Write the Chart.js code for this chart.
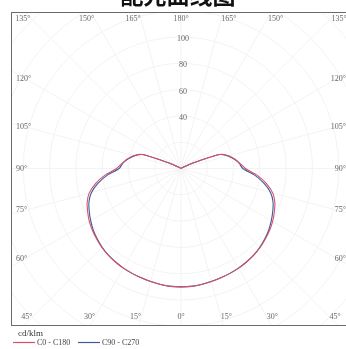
<!DOCTYPE html>
<html>
<head>
<meta charset="utf-8">
<script src="https://cdn.jsdelivr.net/npm/chart.js@4.4.1/dist/chart.umd.min.js"></script>
<style>
    html, body { margin: 0; padding: 0; background: #fff; overflow: hidden; }
    #wrap { width: 360px; height: 349px; }
</style>
</head>
<body>
<div id="wrap"><canvas id="polarChart" width="360" height="349"></canvas></div>
<script>
// gamma angles, 0 = straight down
const gammaAngles = [0, 5, 10, 15, 20, 25, 30, 35, 40, 45, 50, 55, 60, 65, 70, 75, 80, 85, 90,
    95, 100, 105, 110, 115, 120, 125, 130, 135, 140, 145, 150, 155, 160, 165, 170, 175, 180];

// cd/klm
const c0c180 = [90, 90, 89.5, 89, 88.5, 88, 87.5, 86.8, 86, 85, 83.6, 82.2, 80.5, 78.3, 76, 72.3, 66, 58, 49,
    45, 41.5, 37.5, 31, 9, 1.5, 0.5, 0, 0, 0, 0, 0, 0, 0, 0, 0, 0, 0];
const c90c270 = [90, 90, 89.5, 89, 88.5, 88, 87.5, 86.8, 86, 84.8, 83.2, 81.5, 79.3, 77, 74.5, 70.5, 64, 56, 47,
    44.5, 41, 37, 31, 9, 1.5, 0.5, 0, 0, 0, 0, 0, 0, 0, 0, 0, 0, 0];

const seriesNames = ["C0 - C180", "C90 - C270"];
const seriesColors = ["#d4506a", "#3d5a99"];
const ringValues = [20, 40, 60, 80, 100, 120, 140, 160, 180];
const ringLabels = [40, 60, 80, 100];
const rayStep = 15;
const titleText = "配光曲线图";
const unitText = "cd/klm";

// polar -> x/y values, left half then right half
function to_xy(values) {
    const pts = [];
    for (let i = gammaAngles.length - 1; i >= 0; i--) {
        const a = gammaAngles[i] * Math.PI / 180;
        pts.push({x: -values[i] * Math.sin(a), y: -values[i] * Math.cos(a)});
    }
    for (let i = 1; i < gammaAngles.length; i++) {
        const a = gammaAngles[i] * Math.PI / 180;
        pts.push({x: values[i] * Math.sin(a), y: -values[i] * Math.cos(a)});
    }
    return pts;
}

const labelFont = "8px 'Liberation Serif', 'DejaVu Serif', serif";

// grid, angle labels, frame, title and legend
const polarGrid = {
    id: "polarGrid",
    beforeDatasetsDraw(chart) {
        const ctx = chart.ctx;
        const area = chart.chartArea;
        const sx = chart.scales.x, sy = chart.scales.y;
        const cx = sx.getPixelForValue(0), cy = sy.getPixelForValue(0);
        const k = Math.abs(sx.getPixelForValue(1) - cx);

        ctx.save();
        ctx.beginPath();
        ctx.rect(area.left, area.top, area.right - area.left, area.bottom - area.top);
        ctx.clip();
        ctx.strokeStyle = "#f3f3f3";
        ctx.lineWidth = 1;
        ringValues.forEach(v => {
            ctx.beginPath();
            ctx.arc(cx, cy, v * k, 0, Math.PI * 2);
            ctx.stroke();
        });
        for (let g = 0; g < 360; g += rayStep) {
            const a = g * Math.PI / 180;
            ctx.beginPath();
            ctx.moveTo(cx, cy);
            ctx.lineTo(cx + Math.sin(a) * 400, cy + Math.cos(a) * 400);
            ctx.stroke();
        }
        ctx.restore();

        // radial tick labels on the upward ray
        ctx.save();
        ctx.font = labelFont;
        ctx.fillStyle = "#666";
        ctx.textAlign = "center";
        ctx.textBaseline = "middle";
        ringLabels.forEach(v => {
            ctx.fillText(String(v), cx + 2, cy - v * k + 2);
        });

        // angle labels where each ray meets the frame
        const inL = area.left + 14, inR = area.right - 14;
        const inT = area.top + 6, inB = area.bottom - 8;
        for (let side = -1; side <= 1; side += 2) {
            for (let g = 0; g <= 180; g += rayStep) {
                if (side === 1 && (g === 0 || g === 180)) continue;
                const a = g * Math.PI / 180;
                const dx = side * Math.sin(a), dy = Math.cos(a);
                const text = g + "°";
                let t = Infinity;
                let edge = "";
                if (dy > 1e-6) { t = (inB - cy) / dy; edge = "b"; }
                if (dy < -1e-6) { t = (inT - cy) / dy; edge = "t"; }
                const xh = cx + dx * t;
                ctx.textBaseline = "middle";
                if (xh < inL || xh > inR) {
                    const tx = dx < 0 ? (inL - cx) / dx : (inR - cx) / dx;
                    const yy = cy + dy * tx;
                    if (dx < 0) {
                        ctx.textAlign = "left";
                        ctx.fillText(text, area.left + 5, yy);
                    } else {
                        ctx.textAlign = "right";
                        ctx.fillText(text, area.right - 5, yy);
                    }
                } else {
                    ctx.textAlign = g === 0 || g === 180 ? "center" : (dx < 0 ? "right" : "left");
                    ctx.fillText(text, xh, edge === "t" ? inT + 1 : inB);
                }
            }
        }
        ctx.restore();
    },
    afterDraw(chart) {
        const ctx = chart.ctx;
        const area = chart.chartArea;
        ctx.save();
        ctx.strokeStyle = "#6a6a6a";
        ctx.lineWidth = 1;
        ctx.strokeRect(area.left + 0.5, area.top + 0.5, area.right - area.left, area.bottom - area.top);

        // title, cut off at the top of the page
        ctx.fillStyle = "#111";
        ctx.font = "bold 23px 'Noto Sans CJK SC', sans-serif";
        ctx.textAlign = "center";
        ctx.textBaseline = "bottom";
        ctx.fillText(titleText, 178, 7);

        // legend
        ctx.font = "9px 'Liberation Serif', 'DejaVu Serif', serif";
        ctx.fillStyle = "#333";
        ctx.textAlign = "left";
        ctx.textBaseline = "middle";
        ctx.fillText(unitText, 18, 334);
        const starts = [13, 78];
        seriesNames.forEach((name, i) => {
            ctx.strokeStyle = seriesColors[i];
            ctx.lineWidth = 1.2;
            ctx.beginPath();
            ctx.moveTo(starts[i], 342.5);
            ctx.lineTo(starts[i] + 22, 342.5);
            ctx.stroke();
            ctx.fillStyle = "#444";
            ctx.font = "8px 'Liberation Serif', 'DejaVu Serif', serif";
            ctx.fillText(name, starts[i] + 24, 343);
        });
        ctx.restore();
    }
};

const ctx = document.getElementById("polarChart").getContext("2d");
const polarChart = new Chart(ctx, {
    type: "scatter",
    data: {
        datasets: [
            {label: seriesNames[0], data: to_xy(c0c180), borderColor: seriesColors[0]},
            {label: seriesNames[1], data: to_xy(c90c270), borderColor: seriesColors[1]}
        ].map(ds => Object.assign(ds, {
            showLine: true, pointRadius: 0, borderWidth: 1.1, tension: 0.25, fill: false
        }))
    },
    options: {
        responsive: false,
        animation: false,
        devicePixelRatio: 1,
        layout: {padding: {left: 11, top: 12, right: 9, bottom: 24}},
        plugins: {legend: {display: false}, tooltip: {enabled: false}},
        scales: {
            x: {display: false, min: -129.3, max: 129.3},
            y: {display: false, min: -119, max: 119}
        }
    },
    plugins: [polarGrid]
});
</script>
</body>
</html>
